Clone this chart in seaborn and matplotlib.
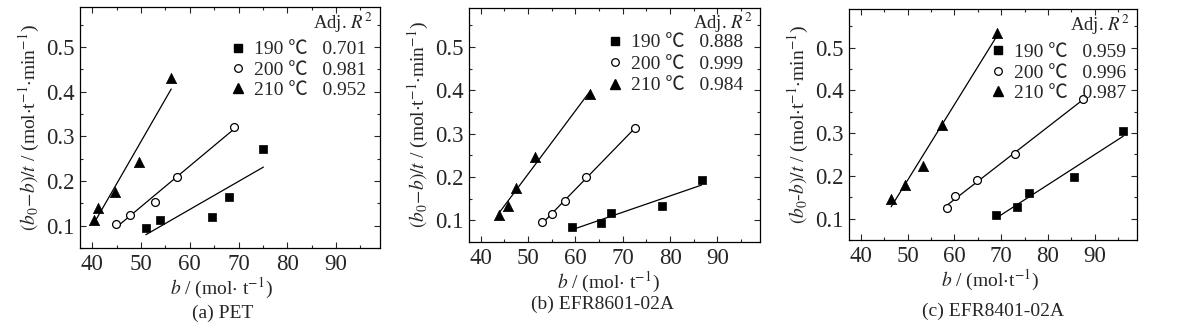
import numpy as np
import pandas as pd
import matplotlib
matplotlib.use("Agg")
import matplotlib.pyplot as plt
import seaborn as sns
from matplotlib.ticker import MultipleLocator
from matplotlib.lines import Line2D

sns.set_style("ticks")
plt.rcParams['font.family'] = ['Liberation Serif', 'Noto Sans CJK SC']
plt.rcParams['mathtext.fontset'] = 'stix'

# ---- data ----
temps = ["190", "200", "210"]

pet_190_x = [51.0, 53.9, 64.6, 68.0, 75.1]
pet_190_y = [0.094, 0.112, 0.119, 0.165, 0.271]
pet_200_x = [44.8, 47.7, 52.9, 57.4, 69.1]
pet_200_y = [0.104, 0.124, 0.152, 0.210, 0.322]
pet_210_x = [40.3, 41.2, 44.7, 49.5, 56.2]
pet_210_y = [0.112, 0.139, 0.176, 0.242, 0.430]
pet_r2 = ["0.701", "0.981", "0.952"]

e86_190_x = [59.2, 65.4, 67.5, 78.2, 86.7]
e86_190_y = [0.084, 0.093, 0.118, 0.132, 0.193]
e86_200_x = [53.0, 55.0, 57.7, 62.3, 72.5]
e86_200_y = [0.095, 0.114, 0.144, 0.199, 0.312]
e86_210_x = [43.9, 45.8, 47.4, 51.4, 63.1]
e86_210_y = [0.112, 0.134, 0.175, 0.246, 0.391]
e86_r2 = ["0.888", "0.999", "0.984"]

e84_190_x = [68.9, 73.3, 76.0, 85.6, 96.1]
e84_190_y = [0.108, 0.126, 0.160, 0.197, 0.305]
e84_200_x = [58.5, 60.2, 64.9, 73.0, 87.5]
e84_200_y = [0.125, 0.152, 0.191, 0.251, 0.379]
e84_210_x = [46.5, 49.4, 53.4, 57.3, 69.1]
e84_210_y = [0.146, 0.178, 0.224, 0.319, 0.535]
e84_r2 = ["0.959", "0.996", "0.987"]

x_ticks = [40, 50, 60, 70, 80, 90]
y_ticks = [0.1, 0.2, 0.3, 0.4, 0.5]

captions = ["(a) PET", "(b) EFR8601-02A", "(c) EFR8401-02A"]

panels = [
    dict(series=[(pet_190_x, pet_190_y), (pet_200_x, pet_200_y), (pet_210_x, pet_210_y)], r2=pet_r2,
         rect=[80/1177, 1-248/327, 300/1177, 241/327], leg=(0.495, 0.86), ls=0.14, adj=(0.975, 0.935),
         ylabel=r"$(b_0\!-\!b)/t$ / (mol$\cdot$t$^{-1}$$\cdot$min$^{-1}$)", xlabel=r"$b$ / (mol$\cdot$ t$^{-1}$)",
         xl_x=0.47, cap=(0.475, -0.27)),
    dict(series=[(e86_190_x, e86_190_y), (e86_200_x, e86_200_y), (e86_210_x, e86_210_y)], r2=e86_r2,
         rect=[469/1177, 1-242/327, 291/1177, 234/327], leg=(0.47, 0.89), ls=0.2, adj=(0.975, 0.935),
         ylabel=r"$(b_0\!-\!b)/t$ / (mol$\cdot$t$^{-1}$$\cdot$min$^{-1}$)", xlabel=r"$b$ / (mol$\cdot$ t$^{-1}$)",
         xl_x=0.48, cap=(0.46, -0.265)),
    dict(series=[(e84_190_x, e84_190_y), (e84_200_x, e84_200_y), (e84_210_x, e84_210_y)], r2=e84_r2,
         rect=[849/1177, 1-240/327, 288/1177, 231/327], leg=(0.485, 0.85), ls=0.14, adj=(0.975, 0.932),
         ylabel=r"$(b_0$-$b)/t$ / (mol$\cdot$t$^{-1}$$\cdot$min$^{-1}$)", xlabel=r"$b$ / (mol$\cdot$t$^{-1}$)",
         xl_x=0.49, cap=(0.5, -0.31)),
]

markers = ['s', 'o', '^']
sizes = [32, 32, 55]

fig = plt.figure(figsize=(11.77, 3.27), dpi=100)

for p, cap in zip(panels, captions):
    ax = fig.add_axes(p["rect"])
    handles = []
    for (xs, ys), m, s, t, r in zip(p["series"], markers, sizes, temps, p["r2"]):
        df = pd.DataFrame({"b": xs, "r": ys})
        sns.regplot(data=df, x="b", y="r", ax=ax, ci=None, scatter=False, truncate=True,
                    line_kws=dict(color="black", lw=0.9))
        if m == 'o':
            sns.scatterplot(data=df, x="b", y="r", ax=ax, marker=m, s=s, color="white",
                            edgecolor="black", linewidth=0.9, zorder=3)
            h = Line2D([], [], ls='none', marker=m, markersize=5.5, markerfacecolor='white',
                       markeredgecolor='black', markeredgewidth=0.9)
        else:
            sns.scatterplot(data=df, x="b", y="r", ax=ax, marker=m, s=s, color="black",
                            edgecolor="black", linewidth=0.5, zorder=3)
            h = Line2D([], [], ls='none', marker=m, markersize=7 if m == '^' else 5.5,
                       color='black')
        handles.append((h, f"{t} \u2103   {r}"))
    ax.set_xlim(37.5, 99)
    ax.set_ylim(0.05, 0.59)
    ax.set_xticks(x_ticks)
    ax.set_yticks(y_ticks)
    ax.set_yticklabels([f"{v:.1f}" for v in y_ticks])
    ax.xaxis.set_minor_locator(MultipleLocator(5))
    ax.yaxis.set_minor_locator(MultipleLocator(0.05))
    ax.tick_params(which='both', direction='in', top=True, right=True, labelsize=16.5, width=0.8, pad=4)
    ax.tick_params(which='major', length=4.5)
    ax.tick_params(which='minor', length=2.5)
    for sp in ax.spines.values():
        sp.set_linewidth(0.9)
        sp.set_color('black')
    ax.set_xlabel(p["xlabel"], fontsize=14, labelpad=1)
    ax.xaxis.label.set_x(p["xl_x"])
    ax.set_ylabel(p["ylabel"], fontsize=14, labelpad=3)
    leg = ax.legend([h for h, _ in handles], [l for _, l in handles], loc='upper left',
                    bbox_to_anchor=p["leg"], frameon=False, fontsize=14, borderpad=0,
                    borderaxespad=0, handletextpad=0.3, labelspacing=p["ls"], handlelength=1.0)
    ax.text(p["adj"][0], p["adj"][1], r"Adj. $R^2$", transform=ax.transAxes, fontsize=13.5,
            ha='right', va='center')
    ax.text(p["cap"][0], p["cap"][1], cap, transform=ax.transAxes, fontsize=14, ha='center', va='center')

fig.savefig("out.png", dpi=100)
